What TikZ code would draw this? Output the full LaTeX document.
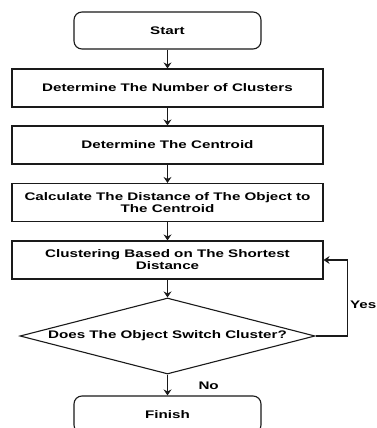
\documentclass[tikz,border=0pt]{standalone}
\usepackage{fontspec}
\setmainfont{Liberation Sans}[FakeStretch=1.38]
\usepackage{tikz}
\usetikzlibrary{arrows.meta,positioning,shapes,calc}
\definecolor{fc-line}{HTML}{1A1A1A}

\begin{document}
\begin{tikzpicture}[x=1pt,y=-1pt,
    font=\fontsize{11}{12}\selectfont\bfseries,
    stepbox/.style={draw=fc-line,line width=1.1pt,fill=white,minimum width=311pt,minimum height=38pt,align=center,inner sep=2pt},
    endbox/.style={stepbox,rounded corners=8pt,minimum width=187pt,minimum height=37pt},
    decision/.style={diamond,draw=fc-line,line width=1.1pt,fill=white,aspect=3.9,inner sep=0pt,minimum width=295pt,minimum height=76pt},
    flow/.style={-{Stealth[length=6pt,width=8pt]},line width=1.1pt,draw=fc-line}]
      \useasboundingbox (0,0) rectangle (377,428);
      \clip (0,0) rectangle (377,428);
      \fill[white] (0,0) rectangle (377,428);
      % steps
      \node[endbox] (start) at (167.5,30.5) {Start};
      \node[stepbox] (number) at (167.5,88) {Determine The Number of Clusters};
      \node[stepbox] (centroid) at (167.5,145) {Determine The Centroid};
      \node[stepbox] (distance) at (167.5,202.5) {Calculate The Distance of The Object to\\The Centroid};
      \node[stepbox] (cluster) at (167.5,260) {Clustering Based on The Shortest\\Distance};
      \node[decision] (decide) at (167.5,336) {Does The Object Switch Cluster?};
      \node[endbox] (finish) at (167.5,414.5) {Finish};
      % arrows
      \draw[flow] (start) -- (number);
      \draw[flow] (number) -- (centroid);
      \draw[flow] (centroid) -- (distance);
      \draw[flow] (distance) -- (cluster);
      \draw[flow] (cluster) -- (decide);
      \draw[flow] (decide) -- (finish);
      \draw[flow] (decide.east) -- ++(32,0) |- (cluster.east);
      \node[anchor=east,inner sep=0pt] (yes) at (376.5,305) {Yes};
      \node[anchor=west] (no) at (195,386) {No};
    \end{tikzpicture}
\end{document}
